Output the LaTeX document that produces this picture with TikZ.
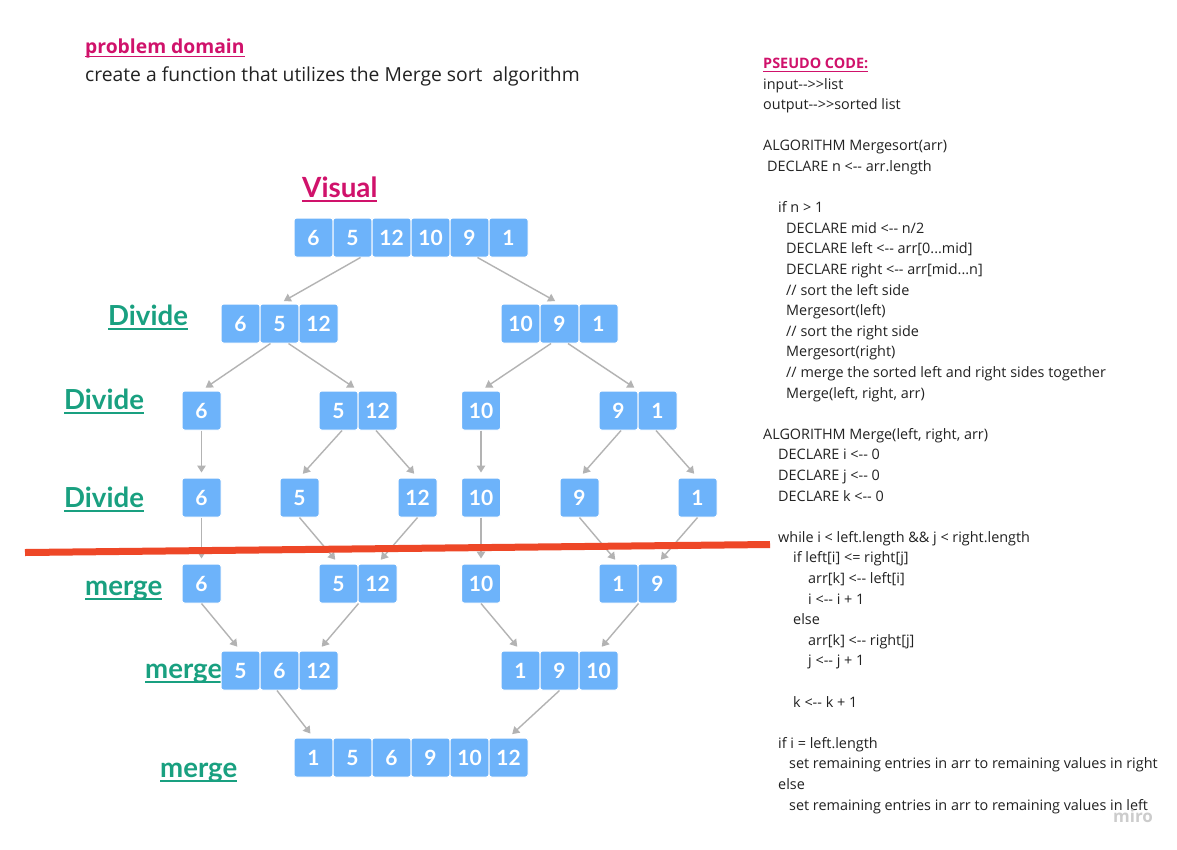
\documentclass[tikz,border=0pt]{standalone}
\usepackage{fontspec}
\setmainfont{Open Sans}
\newfontfamily\lato{Lato}
\usetikzlibrary{arrows.meta}
\definecolor{cellblue}{HTML}{6DB3FA}
\definecolor{pinkhead}{HTML}{D0126B}
\definecolor{greenlab}{HTML}{19A080}
\definecolor{arrowgray}{HTML}{B3B3B3}
\definecolor{cutred}{HTML}{EE4727}
\definecolor{inktext}{HTML}{222222}
\newcommand{\dsh}{-\kern0pt-}
\newcommand{\gtgt}{>\kern0pt>}
% underline: #1 gap below baseline, #2 rule thickness, #3 text
\newcommand{\uln}[3]{\setbox0\hbox{#3}\rlap{\vrule width\wd0 height -#1 depth \dimexpr #1+#2\relax}\box0}
\begin{document}
\begin{tikzpicture}[x=1pt, y=-1pt,
	cell/.style={fill=cellblue, draw=white, line width=1pt, rounded corners=2.5pt, minimum width=39pt, minimum height=39pt, inner sep=0pt, text=white, font=\lato\bfseries\fontsize{21}{21}\selectfont},
	link/.style={draw=arrowgray, line width=1.4pt, -{Triangle[length=7pt,width=8.5pt]}, shorten >=5pt},
	stage/.style={anchor=base west, inner sep=0pt, text=greenlab, font=\lato\bfseries\fontsize{27.6}{30}\selectfont},
	code/.style={anchor=base west, inner sep=0pt, text=inktext, font=\fontsize{14.4}{17}\selectfont}]
	\fill[white] (0,0) rectangle (1177,849);
	\useasboundingbox (0,0) rectangle (1177,849);
	% heading
	\node[anchor=base west, inner sep=0pt, text=pinkhead, font=\bfseries\fontsize{19.3}{22}\selectfont] (dom) at (85,53) {\uln{2.5pt}{1.5pt}{problem domain}};
	\node[anchor=base west, inner sep=0pt, text=inktext, font=\fontsize{19.3}{22}\selectfont] (task) at (85,81.5) {create a function that utilizes the Merge sort\ \ algorithm};
	\node[anchor=base west, inner sep=0pt, text=pinkhead, font=\lato\bfseries\fontsize{27.8}{30}\selectfont] (vis) at (302,197) {\uln{2.5pt}{2pt}{Visual}};
	% stage labels
	\node[stage] (lab2) at (108,325) {\uln{2.5pt}{2pt}{Divide}};
	\node[stage] (lab3) at (64,409) {\uln{2.5pt}{2pt}{Divide}};
	\node[stage] (lab4) at (64,507) {\uln{2.5pt}{2pt}{Divide}};
	\node[stage] (lab5) at (85,595) {\uln{2.5pt}{2pt}{merge}};
	\node[stage] (lab6) at (145,678) {\uln{2.5pt}{2pt}{merge}};
	\node[stage] (lab7) at (160,777) {\uln{2.5pt}{2pt}{merge}};
	% row 1
	\node[cell] (v1) at (313.5,237.5) {6};
	\node[cell] (v2) at (352.5,237.5) {5};
	\node[cell] (v3) at (391.5,237.5) {12};
	\node[cell] (v4) at (430.5,237.5) {10};
	\node[cell] (v5) at (469.5,237.5) {9};
	\node[cell] (v6) at (508.5,237.5) {1};
	% row 2
	\node[cell] (dl1) at (240.5,323.5) {6};
	\node[cell] (dl2) at (279.5,323.5) {5};
	\node[cell] (dl3) at (318.5,323.5) {12};
	\node[cell] (dr1) at (520.5,323.5) {10};
	\node[cell] (dr2) at (559.5,323.5) {9};
	\node[cell] (dr3) at (598.5,323.5) {1};
	% row 3
	\node[cell] (dd1) at (201.5,410.5) {6};
	\node[cell] (dd2) at (338.5,410.5) {5};
	\node[cell] (dd3) at (377.5,410.5) {12};
	\node[cell] (dd4) at (481,410.5) {10};
	\node[cell] (dd5) at (618.5,410.5) {9};
	\node[cell] (dd6) at (657.5,410.5) {1};
	% row 4
	\node[cell] (s1) at (201.5,497.5) {6};
	\node[cell] (s2) at (299.5,497.5) {5};
	\node[cell] (s3) at (417.5,497.5) {12};
	\node[cell] (s4) at (481,497.5) {10};
	\node[cell] (s5) at (579.5,497.5) {9};
	\node[cell] (s6) at (697.5,497.5) {1};
	% row 5
	\node[cell] (m1) at (201.5,583.5) {6};
	\node[cell] (m2) at (338.5,583.5) {5};
	\node[cell] (m3) at (377.5,583.5) {12};
	\node[cell] (m4) at (481,583.5) {10};
	\node[cell] (m5) at (618.5,583.5) {1};
	\node[cell] (m6) at (657.5,583.5) {9};
	% row 6
	\node[cell] (ml1) at (240.5,670.5) {5};
	\node[cell] (ml2) at (279.5,670.5) {6};
	\node[cell] (ml3) at (318.5,670.5) {12};
	\node[cell] (mr1) at (520.5,670.5) {1};
	\node[cell] (mr2) at (559.5,670.5) {9};
	\node[cell] (mr3) at (598.5,670.5) {10};
	% row 7
	\node[cell] (f1) at (313.5,757.5) {1};
	\node[cell] (f2) at (352.5,757.5) {5};
	\node[cell] (f3) at (391.5,757.5) {6};
	\node[cell] (f4) at (430.5,757.5) {9};
	\node[cell] (f5) at (469.5,757.5) {10};
	\node[cell] (f6) at (508.5,757.5) {12};
	% divide arrows
	\draw[link] ([xshift=8pt]v2.south) -- (dl2.north);
	\draw[link] ([xshift=8pt]v5.south) -- (dr2.north);
	\draw[link] ([xshift=-9pt]dl2.south) -- (dd1.north);
	\draw[link] ([xshift=9pt]dl2.south) -- (dd2.north east);
	\draw[link] ([xshift=-8.5pt]dr2.south) -- (dd4.north);
	\draw[link] ([xshift=8.5pt]dr2.south) -- (dd5.north east);
	\draw[link] (dd1.south) -- (s1.north);
	\draw[link] ([xshift=3.5pt]dd2.south) -- (s2.north);
	\draw[link] ([xshift=-1.5pt]dd3.south) -- (s3.north);
	\draw[link] (dd4.south) -- (s4.north);
	\draw[link] ([xshift=2.5pt]dd5.south) -- (s5.north);
	\draw[link] ([xshift=-1.5pt]dd6.south) -- (s6.north);
	% merge arrows
	\draw[link] (s1.south) -- (m1.north);
	\draw[link] (s2.south) -- (m2.north);
	\draw[link] (s3.south) -- (m3.north);
	\draw[link] (s4.south) -- (m4.north);
	\draw[link] (s5.south) -- (m5.north);
	\draw[link] (s6.south) -- (m6.north);
	\draw[link] (m1.south) -- (ml1.north);
	\draw[link] (m2.south east) -- (ml3.north);
	\draw[link] (m4.south) -- (mr1.north);
	\draw[link] (m5.south east) -- (mr3.north);
	\draw[link] ([xshift=-2.5pt]ml2.south) -- (f1.north);
	\draw[link] (mr2.south) -- (f6.north);
	% cut line
	\draw[cutred, line width=7pt] (25,552.5) -- (770,544.5);
	% pseudo code
	\node[anchor=base west, inner sep=0pt, text=pinkhead, font=\bfseries\fontsize{14.4}{17}\selectfont] (p0) at (763,68.5) {\uln{2pt}{1.2pt}{PSEUDO CODE:}};
	\node[code] (p1) at (763,89.1) {input\dsh\gtgt list};
	\node[code] (p2) at (763,109.7) {output\dsh\gtgt sorted list};
	\node[code] (p4) at (763,150.9) {ALGORITHM Mergesort(arr)};
	\node[code] (p5) at (767,171.5) {DECLARE n <\dsh\ arr.length};
	\node[code] (p7) at (778,212.7) {if n > 1};
	\node[code] (p8) at (786,233.3) {DECLARE mid <\dsh\ n/2};
	\node[code] (p9) at (786,253.9) {DECLARE left <\dsh\ arr[0...mid]};
	\node[code] (p10) at (786,274.5) {DECLARE right <\dsh\ arr[mid...n]};
	\node[code] (p11) at (786,295.1) {// sort the left side};
	\node[code] (p12) at (786,315.7) {Mergesort(left)};
	\node[code] (p13) at (786,336.3) {// sort the right side};
	\node[code] (p14) at (786,356.9) {Mergesort(right)};
	\node[code] (p15) at (786,377.5) {// merge the sorted left and right sides together};
	\node[code] (p16) at (786,398.1) {Merge(left, right, arr)};
	\node[code] (p18) at (763,439.3) {ALGORITHM Merge(left, right, arr)};
	\node[code] (p19) at (778,459.9) {DECLARE i <\dsh\ 0};
	\node[code] (p20) at (778,480.5) {DECLARE j <\dsh\ 0};
	\node[code] (p21) at (778,501.1) {DECLARE k <\dsh\ 0};
	\node[code] (p23) at (778,542.3) {while i < left.length \&\& j < right.length};
	\node[code] (p24) at (793,562.9) {if left[i] <= right[j]};
	\node[code] (p25) at (808,583.5) {arr[k] <\dsh\ left[i]};
	\node[code] (p26) at (808,604.1) {i <\dsh\ i + 1};
	\node[code] (p27) at (793,624.7) {else};
	\node[code] (p28) at (808,645.3) {arr[k] <\dsh\ right[j]};
	\node[code] (p29) at (808,665.9) {j <\dsh\ j + 1};
	\node[code] (p31) at (793,707.1) {k <\dsh\ k + 1};
	\node[code] (p33) at (778,748.3) {if i = left.length};
	\node[code] (p34) at (789,768.9) {set remaining entries in arr to remaining values in right};
	\node[code] (p35) at (778,789.5) {else};
	\node[code] (p36) at (789,810.1) {set remaining entries in arr to remaining values in left};
	\node[anchor=base west, inner sep=0pt, text=black!20, font=\bfseries\fontsize{17}{17}\selectfont] (wm) at (1113,822) {miro};
\end{tikzpicture}
\end{document}
